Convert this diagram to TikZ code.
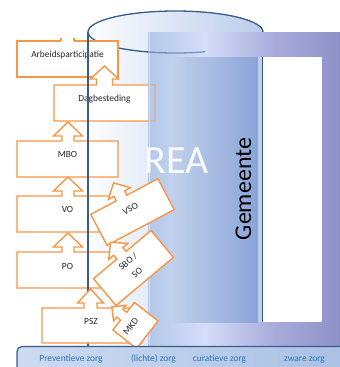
\documentclass[tikz,border=0pt]{standalone}
\usepackage{fontspec}
\setmainfont{Carlito}
\definecolor{orng}{RGB}{247,150,70}
\definecolor{cyl}{RGB}{56,93,138}
\definecolor{bandtxt}{RGB}{47,117,181}
\definecolor{cylL}{RGB}{252,253,255}
\definecolor{cylR}{RGB}{186,204,234}
\definecolor{bandL}{RGB}{205,219,241}
\definecolor{bandR}{RGB}{168,192,228}
\definecolor{frA}{RGB}{180,199,231}
\definecolor{frB}{RGB}{213,221,250}
\definecolor{frC}{RGB}{168,171,218}
\definecolor{frD}{RGB}{139,143,199}
\definecolor{pnA}{RGB}{192,207,234}
\definecolor{pnB}{RGB}{166,187,226}
\definecolor{pnC}{RGB}{136,164,216}
\def\ubhl{14}\def\ubsl{5}
\newcommand{\ubox}[6]{%
 \begin{scope}[#1]
 \filldraw[ob] ({-#2/2},{-#3/2}) -- ({#4-#6},{-#3/2}) -- ({#4-#6},{-#3/2-\ubsl}) -- ({#4-#5},{-#3/2-\ubsl}) -- ({#4},{-#3/2-\ubsl-\ubhl}) -- ({#4+#5},{-#3/2-\ubsl}) -- ({#4+#6},{-#3/2-\ubsl}) -- ({#4+#6},{-#3/2}) -- ({#2/2},{-#3/2}) -- ({#2/2},{#3/2}) -- ({-#2/2},{#3/2}) -- cycle;
 \end{scope}}
\tikzset{
 ob/.style={draw=orng, line width=1.4pt, fill=white, line join=miter},
 lbl/.style={font=\fontsize{9.4}{11}\selectfont, text=black!85, inner sep=0pt},
 zorg/.style={font=\fontsize{9.4}{11}\selectfont, text=bandtxt, inner sep=0pt, anchor=base},
 cylline/.style={draw=cyl, line width=1.3pt},
}
\begin{document}
\begin{tikzpicture}[x=1pt,y=-1pt]
\useasboundingbox (0,0) rectangle (340,367);
\clip (0,0) rectangle (340,367);
\fill[white] (0,0) rectangle (340,367);
% cylinder body and top
\fill[left color=cylL, right color=cylR] (88,32) rectangle (263,346);
\fill[left color=cylL, right color=cylR] (175.5,32) ellipse [x radius=87.5, y radius=21];
\draw[cylline] (175.5,32) ellipse [x radius=87.5, y radius=21];
% left stack (behind)
\filldraw[ob] (61,41) -- (17,41) -- (17,77) -- (118,77) -- (118,41) -- (74,41);
\draw[ob, fill=none] (61,41) -- (61,38) (74,41) -- (74,38);
\node[lbl, anchor=base] (arb) at (67.5,57.2) {Arbeidsparticipatie};
\def\ubhl{13}\def\ubsl{6}
\ubox{shift={(104.5,103)}}{101}{36}{0}{14}{8}
\node[lbl, anchor=base] (dag) at (104.5,101.5) {Dagbesteding};
\def\ubhl{14}\def\ubsl{5}
\ubox{shift={(67.5,159)}}{101}{36}{0.5}{14.5}{6}
\node[lbl, anchor=base] (mbo) at (67.5,157.3) {MBO};
\ubox{shift={(67.5,214)}}{101}{36}{0.5}{14.5}{6}
\node[lbl, anchor=base] (vo) at (67.5,212.3) {VO};
\ubox{shift={(67.5,270)}}{101}{36}{0.5}{14.5}{6}
\node[lbl, anchor=base] (po) at (67.5,269.3) {PO};
% Gemeente frame
\fill[left color=frA, right color=frB] (148,32) rectangle (205.5,345);
\fill[left color=frB, right color=frD, middle color=frC] (205,32) rectangle (344,345);
\draw[orng, opacity=0.35, line width=1.4pt] (148,85) -- (155,85) -- (155,121) -- (148,121);
\draw[white, opacity=0.45, line width=0.8pt] (149,32) -- (149,345);
\fill[left color=pnA, right color=pnC, middle color=pnB] (173,57) rectangle (258,322);
\fill[pnA] (258,57) rectangle (263,322);
\fill[white] (263,57) rectangle (322,322);
\draw[cyl, line width=1pt] (262.6,57) -- (262.6,322);
\node[font=\fontsize{40}{40}\selectfont, text=white, anchor=base, inner sep=0pt, opacity=0.92] (rea) at (176.5,173) {REA};
\node[font=\fontsize{24}{24}\selectfont, rotate=90, inner sep=0pt] (gem) at (243.4,189) {Gemeente};
% faint front arc of cylinder over frame
\begin{scope}
\clip (148,40) rectangle (205,60);
\draw[cylline, opacity=0.55] (175.5,32) ellipse [x radius=87.5, y radius=21];
\end{scope}
% cylinder left edge
\draw[cylline] (88,32) -- (88,346);
% rotated callouts
\def\ubhl{12}\def\ubsl{5}
\ubox{shift={(132.5,212)}, rotate=28}{76}{35}{-3}{12.5}{6}
\node[lbl, rotate=28] (vso) at (130.4,208.7) {VSO};
\ubox{shift={(133.5,268)}, rotate=40}{75}{35}{-1}{12.5}{6}
\node[lbl, rotate=40, align=center, font=\fontsize{9.4}{14}\selectfont] (sbo) at (132.5,267) {SBO /\\SO};
\def\ubhl{14}\def\ubsl{5}
\ubox{shift={(92,325.5)}}{100}{35}{-1.5}{13}{6.5}
\node[lbl, anchor=base] (psz) at (91,324.3) {PSZ};
\def\ubhl{10}\def\ubsl{5}
\ubox{shift={(135.5,325.5)}, rotate=52}{35}{30}{0}{10}{5}
\node[lbl, rotate=52] (mkd) at (130.7,326.7) {MKD};
% bottom band
\draw[draw=cyl, line width=1.2pt, rounded corners=5pt, left color=bandL, right color=bandR] (17,346.5) rectangle (360,385);
\node[zorg] (z1) at (71,361.5) {Preventieve zorg};
\node[zorg] (z2) at (153.5,361.5) {(lichte) zorg};
\node[zorg] (z3) at (219.5,361.5) {curatieve zorg};
\node[zorg] (z4) at (304.5,361.5) {zware zorg};
\end{tikzpicture}
\end{document}
